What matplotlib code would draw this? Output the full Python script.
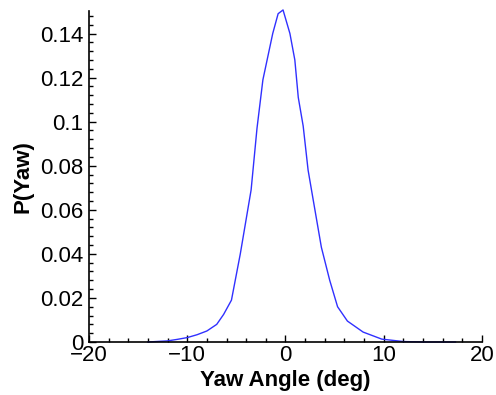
import matplotlib
matplotlib.use("Agg")
import matplotlib.pyplot as plt
from matplotlib.ticker import MultipleLocator

plt.rcParams["font.family"] = ["Liberation Sans", "DejaVu Sans"]

yaw = [-14, -12, -11, -10, -9, -8, -7, -6.3, -5.5, -4.6, -3.5, -2.9, -2.3,
       -1.3, -0.75, -0.25, 0.45, 0.95, 1.3, 1.8, 2.3, 2.8, 3.65, 4.5, 5.3,
       6.3, 7.9, 9.8, 12, 14, 17.3]
prob = [0.0, 0.0005, 0.0012, 0.002, 0.0033, 0.005, 0.008, 0.0125, 0.019,
        0.040, 0.069, 0.097, 0.119, 0.140, 0.149, 0.1507, 0.140, 0.128,
        0.111, 0.098, 0.078, 0.065, 0.043, 0.028, 0.016, 0.0095, 0.0045,
        0.0013, 0.0002, 0.0, 0.0]


def main():
    fig = plt.figure(figsize=(4.96, 3.95), dpi=100)
    ax = fig.add_axes([0.1794, 0.1342, 0.7924, 0.8367])
    ax.plot(yaw, prob, color="#3030ff", lw=1.0, clip_on=False)

    ax.set_xlim(-20, 20)
    ax.set_ylim(0, 0.15)
    ax.xaxis.set_major_locator(MultipleLocator(10))
    ax.xaxis.set_minor_locator(MultipleLocator(2))
    ax.yaxis.set_minor_locator(MultipleLocator(0.004))
    ax.set_yticks([0, 0.02, 0.04, 0.06, 0.08, 0.1, 0.12, 0.14])
    ax.set_yticklabels(["0", "0.02", "0.04", "0.06", "0.08", "0.1", "0.12", "0.14"])

    for side in ("top", "right"):
        ax.spines[side].set_visible(False)
    for side in ("left", "bottom"):
        ax.spines[side].set_linewidth(1.2)

    ax.tick_params(which="both", direction="in", labelsize=16, width=1.0)
    ax.tick_params(which="major", length=5)
    ax.tick_params(which="minor", length=3)
    ax.tick_params(axis="x", pad=2)
    ax.tick_params(axis="y", pad=4)

    ax.set_xlabel("Yaw Angle (deg)", fontsize=16, fontweight="bold", labelpad=3)
    ax.set_ylabel("P(Yaw)", fontsize=16, fontweight="bold", labelpad=5)

    fig.savefig("out.png", dpi=100)


if __name__ == "__main__":
    main()
